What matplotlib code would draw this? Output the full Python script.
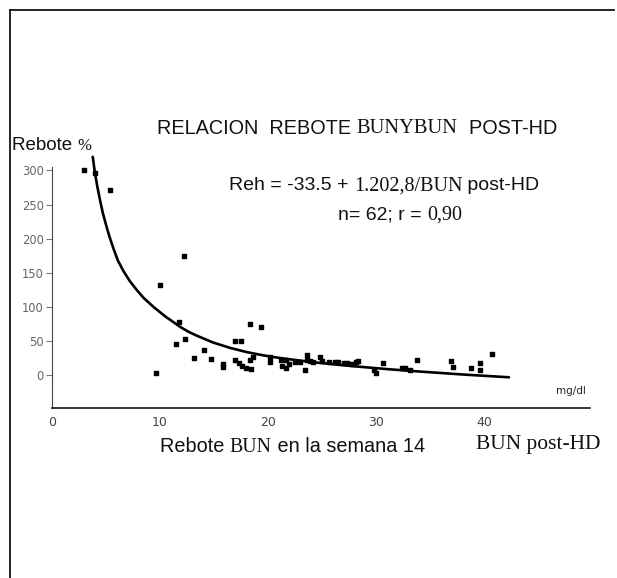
import matplotlib
matplotlib.use("Agg")
import matplotlib.pyplot as plt
from matplotlib.lines import Line2D

# BUN post-HD (mg/dl) y rebote (%)
bun = [3.0, 4.0, 5.4, 12.2, 10.0, 11.8, 11.5, 12.3, 9.6, 13.1, 14.1, 14.7,
       15.8, 15.8, 16.9, 17.5, 16.9, 17.3, 17.6, 18.0, 18.4, 18.3, 19.3, 18.3,
       18.6, 20.2, 20.2, 21.2, 21.3, 21.7, 21.7, 21.9, 22.5, 23.0, 23.6, 23.6,
       23.4, 23.9, 24.2, 24.8, 25.0, 25.6, 26.2, 26.5, 27.0, 27.3, 27.8, 28.1,
       28.3, 29.8, 30.0, 30.6, 32.4, 32.7, 33.1, 33.8, 36.9, 37.1, 38.8, 39.6,
       39.6, 40.7]
rebote = [300, 297, 271, 174, 132, 78, 46, 53, 4, 25, 37, 24,
          17, 12, 50, 50, 22, 18, 14, 11, 9, 75, 70, 22,
          26, 27, 20, 22, 14, 23, 11, 17, 19, 20, 22, 29,
          7, 21, 20, 27, 21, 20, 20, 20, 18, 18, 17, 20,
          21, 7, 3, 18, 11, 10, 8, 22, 21, 12, 11, 18,
          8, 31]

# curva de regresion trazada en la figura
curva_x = [3.77, 3.98, 4.2, 4.44, 4.7, 5.06, 5.3, 5.68, 6.1, 6.6, 7.2, 7.84,
           8.5, 9.4, 10.5, 11.85, 12.6, 13.4, 14.9, 16.5, 18.0, 19.6, 21.2,
           22.7, 24.2, 25.5, 26.7, 28.8, 31.0, 33.5, 35.8, 38.1, 40.2, 42.3]
curva_y = [320, 296, 276, 257, 238, 217, 204, 186, 168, 153, 138, 125,
           113, 100, 86, 71, 64, 58, 48, 40, 34, 29, 25,
           22, 19, 17, 15, 12, 9, 6, 3.5, 1, -1, -3]

yticks = [0, 50, 100, 150, 200, 250, 300]
xticks = [0, 10, 20, 30, 40]

W, H = 617, 578
fig = plt.figure(figsize=(W / 100, H / 100), dpi=100)
fig.patch.set_facecolor("white")

ax = fig.add_axes([52 / W, 1 - 408 / H, (590 - 52) / W, (408 - 150) / H])
ax.scatter(bun, rebote, marker="s", s=7, color="black", zorder=3)
ax.plot(curva_x, curva_y, color="black", lw=1.9, solid_capstyle="round",
        solid_joinstyle="round")

ax.set_xlim(0, 49.8)
ax.set_ylim(-48, 330)
for s in ["top", "right"]:
    ax.spines[s].set_visible(False)
ax.spines["left"].set_bounds(-48, 305)
ax.spines["left"].set_color("#444444")
ax.spines["bottom"].set_color("black")
ax.spines["bottom"].set_linewidth(1.1)

ax.set_yticks(yticks)
ax.set_xticks(xticks)
ax.tick_params(axis="y", length=4, width=0.8, color="#777777",
               labelsize=8.3, labelcolor="#666666", pad=2)
ax.tick_params(axis="x", length=0, labelsize=9, labelcolor="#444444", pad=6)

ax.text(0.965, 0.066, "mg/dl", transform=ax.transAxes, fontsize=7.5,
        ha="center", va="center", color="#222222")


def px(x, y):
    return x / W, 1 - y / H


def mixed(x, y, parts):
    # escribe trozos de texto seguidos con distintas fuentes
    r = fig.canvas.get_renderer()
    cur = x
    for s, fam, size in parts:
        t = fig.text(*px(cur, y), s, family=fam, fontsize=size,
                     va="center", ha="left", color="#111111")
        cur += t.get_window_extent(r).width


sans = "Liberation Sans"
serif = "Liberation Serif"

mixed(157, 128, [("RELACION  REBOTE ", sans, 14.3), ("BUNYBUN", serif, 14.8),
                 ("  POST-HD", sans, 14.3)])
mixed(229, 186, [("Reh = -33.5 + ", sans, 14), ("1.202,8/BUN", serif, 14.5),
                 (" post-HD", sans, 14)])
mixed(338, 215, [("n= 62; r = ", sans, 14), ("0,90", serif, 14.5)])
mixed(12, 146, [("Rebote ", sans, 13.5), ("%", serif, 12)])
mixed(160, 447, [("Rebote ", sans, 14.3), ("BUN", serif, 14.3),
                 (" en la semana 14", sans, 14.3)])
mixed(476, 444, [("BUN post-HD", serif, 15.5)])

# marco del escaneo
fig.add_artist(Line2D([10 / W, 614 / W], [1 - 10 / H, 1 - 10 / H],
                      color="black", lw=1.2, transform=fig.transFigure))
fig.add_artist(Line2D([10 / W, 10 / W], [1 - 10 / H, 0],
                      color="black", lw=1.2, transform=fig.transFigure))

fig.savefig("out.png", dpi=100)
